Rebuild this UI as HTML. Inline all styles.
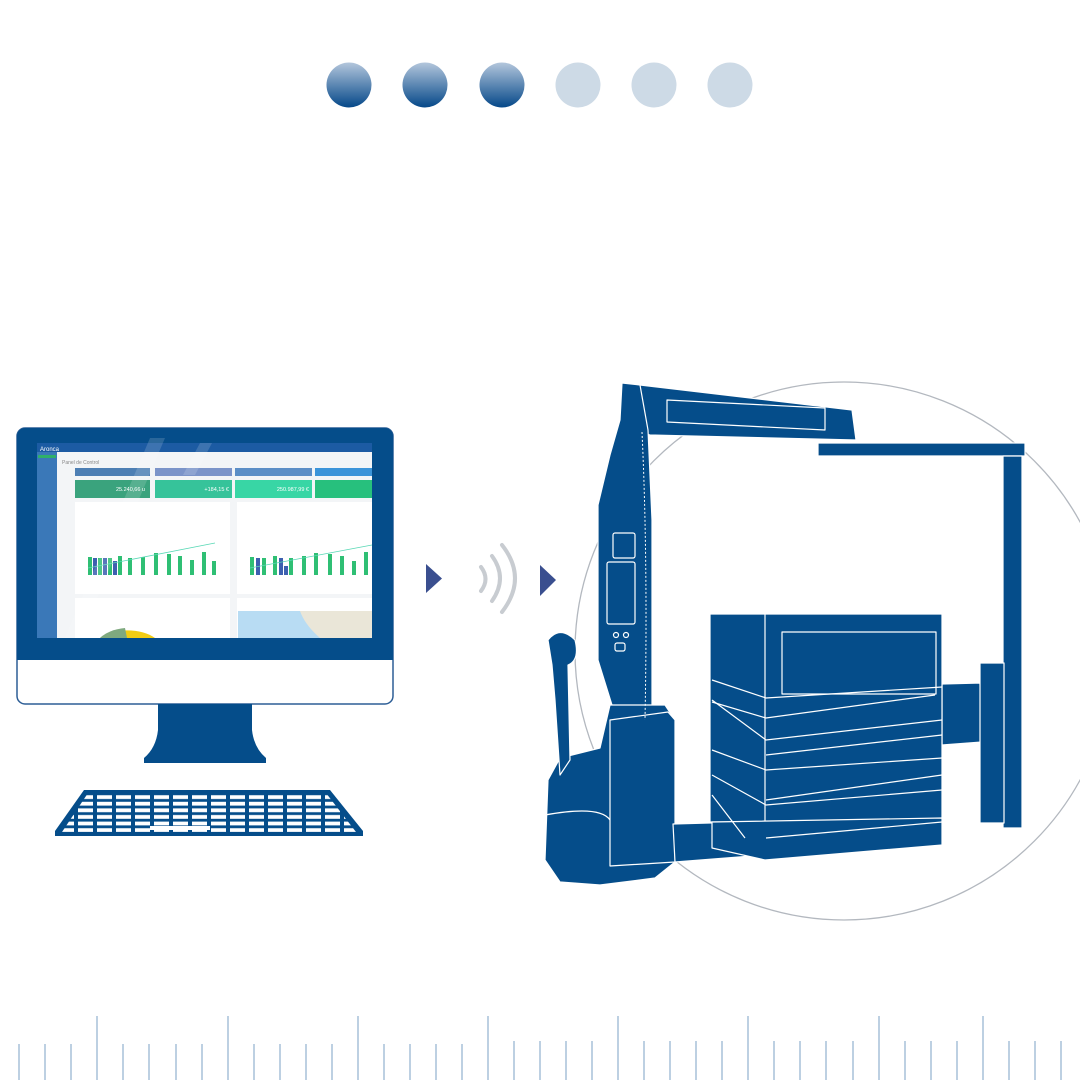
<!DOCTYPE html>
<html><head><meta charset="utf-8"><style>
html,body{margin:0;padding:0;background:#fff;width:1080px;height:1080px;overflow:hidden}
svg{display:block}
text{font-family:"Liberation Sans",sans-serif}
</style></head><body>
<svg width="1080" height="1080" viewBox="0 0 1080 1080" xmlns="http://www.w3.org/2000/svg">
<defs>
<linearGradient id="dg" x1="0" y1="0" x2="0" y2="1">
<stop offset="0" stop-color="#b3c6dc"/><stop offset="1" stop-color="#054889"/>
</linearGradient>
<pattern id="keys" x="0" y="794" width="19" height="6.6" patternUnits="userSpaceOnUse">
<rect x="2" y="1.2" width="15" height="3.8" fill="#fff"/>
</pattern>
<clipPath id="kbc"><polygon points="88,793 326,793 356,832 62,832"/></clipPath>
</defs>

<!-- dots -->
<circle cx="349" cy="85" r="22.5" fill="url(#dg)"/>
<circle cx="425" cy="85" r="22.5" fill="url(#dg)"/>
<circle cx="502" cy="85" r="22.5" fill="url(#dg)"/>
<circle cx="578" cy="85" r="22.5" fill="#cddae6"/>
<circle cx="654" cy="85" r="22.5" fill="#cddae6"/>
<circle cx="730" cy="85" r="22.5" fill="#cddae6"/>

<!-- monitor -->
<rect x="17" y="428" width="376" height="276" rx="8" fill="#fff" stroke="#2d5e96" stroke-width="1.5"/>
<path d="M25,428 H385 a8,8 0 0 1 8,8 V660 H17 V436 a8,8 0 0 1 8,-8z" fill="#054d8a"/>
<rect x="37" y="443" width="335" height="195" fill="#f3f5f7"/>
<rect x="37" y="443" width="335" height="9" fill="#1c5ba3"/>
<rect x="37" y="452" width="20" height="186" fill="#3a78b8"/>
<rect x="38" y="455" width="18" height="3" fill="#2fb06a"/>
<text x="40" y="451" font-size="6" fill="#fff">Aronca</text>
<text x="62" y="464" font-size="5" fill="#888">Panel de Control</text>
<rect x="75" y="468" width="75" height="8" fill="#4d7fb4"/>
<rect x="155" y="468" width="77" height="8" fill="#7b94c9"/>
<rect x="235" y="468" width="77" height="8" fill="#5b8ec6"/>
<rect x="315" y="468" width="57" height="8" fill="#3b94d9"/>
<rect x="75" y="480" width="75" height="18" fill="#3aa37d"/>
<rect x="155" y="480" width="77" height="18" fill="#36c39a"/>
<rect x="235" y="480" width="77" height="18" fill="#38d6a5"/>
<rect x="315" y="480" width="57" height="18" fill="#27c07d"/>
<text x="145" y="491" font-size="5.5" fill="#fff" text-anchor="end">25.240,66 u</text>
<text x="229" y="491" font-size="5.5" fill="#fff" text-anchor="end">+184,15 €</text>
<text x="309" y="491" font-size="5.5" fill="#fff" text-anchor="end">250.987,99 €</text>
<rect x="75" y="502" width="155" height="92" fill="#fff"/>
<rect x="237" y="502" width="135" height="92" fill="#fff"/>
<g fill="#2fbf74">
<rect x="88" y="557" width="4" height="18"/><rect x="98" y="558" width="4" height="17"/><rect x="108" y="558" width="4" height="17"/>
<rect x="118" y="556" width="4" height="19"/><rect x="128" y="558" width="4" height="17"/><rect x="141" y="557" width="4" height="18"/>
<rect x="154" y="553" width="4" height="22"/><rect x="167" y="554" width="4" height="21"/><rect x="178" y="556" width="4" height="19"/>
<rect x="190" y="560" width="4" height="15"/><rect x="202" y="552" width="4" height="23"/><rect x="212" y="561" width="4" height="14"/>
<rect x="250" y="557" width="4" height="18"/><rect x="262" y="558" width="4" height="17"/><rect x="273" y="556" width="4" height="19"/>
<rect x="289" y="558" width="4" height="17"/><rect x="302" y="556" width="4" height="19"/><rect x="314" y="553" width="4" height="22"/>
<rect x="328" y="554" width="4" height="21"/><rect x="340" y="556" width="4" height="19"/><rect x="352" y="561" width="4" height="14"/><rect x="364" y="552" width="4" height="23"/>
</g>
<g fill="#3d60b0"><rect x="93" y="558" width="4" height="17"/><rect x="103" y="558" width="4" height="17"/><rect x="113" y="561" width="4" height="14"/><rect x="256" y="558" width="4" height="17"/><rect x="279" y="558" width="4" height="17"/><rect x="284" y="566" width="4" height="9"/></g>
<path d="M88,568 L215,543 M250,568 L372,545" stroke="#58d8b5" stroke-width="0.8" fill="none"/>
<rect x="75" y="598" width="155" height="40" fill="#fff"/>
<rect x="237" y="598" width="135" height="40" fill="#fff"/>
<rect x="238" y="611" width="134" height="27" fill="#b8dcf3"/>
<path d="M300,611 L372,611 L372,638 L320,638 Q305,625 300,611z" fill="#eae6d8"/>
<path d="M100,638 A35,20 0 0 1 155,638z" fill="#f2cc13"/>
<path d="M100,638 A35,20 0 0 1 125,628 L127,638z" fill="#7fa97f"/>
<path d="M150,438 L165,438 L80,638 L65,638z" fill="#fff" opacity="0.15"/>
<path d="M200,443 L212,443 L195,475 L183,475z" fill="#fff" opacity="0.15"/>

<!-- stand -->
<path d="M158,704 H252 V730 Q254,748 266,758 V763 H144 V758 Q156,748 158,730z" fill="#054d8a"/>
<!-- keyboard -->
<polygon points="84,790 330,790 363,831 363,836 55,836 55,831" fill="#054d8a"/>
<g clip-path="url(#kbc)"><rect x="55" y="794" width="310" height="40" fill="url(#keys)"/></g>
<rect x="150" y="826" width="60" height="4" fill="#fff"/>

<!-- arrows / waves -->
<polygon points="426,564 442,578.5 426,593" fill="#3a4f8f"/>
<polygon points="540,565 556,580 540,596" fill="#3a4f8f"/>
<g fill="none" stroke="#c8ccd1" stroke-width="4" stroke-linecap="round">
<path d="M481,567 Q490,579 481,591"/>
<path d="M492,556 Q508,578 492,601"/>
<path d="M502,545 Q528,578 502,612"/>
</g>

<!-- circle -->
<circle cx="844" cy="651" r="269" fill="none" stroke="#b3b8bf" stroke-width="1.3"/>

<!-- machine -->
<g fill="#054d8a" stroke="#fff" stroke-width="1.2" stroke-linejoin="round">
<polygon points="622,383 640,385 852,410 856,440 650,435 630,430"/>
<polygon points="667,400 825,408 825,430 667,422" fill="none"/>
<polygon points="622,383 640,385 648,430 652,520 652,705 640,725 612,705 598,660 598,505 610,455 620,420"/>
<rect x="613" y="533" width="22" height="25" rx="2" fill="none"/>
<rect x="607" y="562" width="28" height="62" rx="2" fill="none"/>
<circle cx="616" cy="635" r="2.5" fill="none"/><circle cx="626" cy="635" r="2.5" fill="none"/>
<rect x="615" y="643" width="10" height="8" rx="2" fill="none"/>
<polygon points="818,443 1025,443 1025,456 818,456"/>
<polygon points="1003,456 1022,456 1022,828 1003,828"/>
<polygon points="942,684 980,683 982,742 942,745"/>
<rect x="980" y="663" width="24" height="160"/>
<!-- body -->
<path d="M548,780 L560,758 L600,748 L610,705 L665,705 L675,720 L675,862 L655,878 L600,885 L560,882 L545,860z"/>
<path d="M610,720 L668,712 L675,720 L675,862 L610,866z"/>
<path d="M545,815 Q600,805 610,820" fill="none"/>
<path d="M673,824 L745,822 L765,855 L675,862z"/>
<path d="M548,640 Q560,625 575,640 Q580,660 568,665 L570,760 L560,775 L555,700 L552,665z"/>
<!-- box -->
<polygon points="710,614 942,614 942,822 710,822"/>
<rect x="782" y="632" width="154" height="62" fill="none"/>
<line x1="765" y1="614" x2="765" y2="822"/>
<polygon points="712,822 942,818 942,845 765,860 712,848"/>
</g>
<path d="M642,432 Q648,560 645,720" stroke="#fff" stroke-width="1" stroke-dasharray="2 2" fill="none"/>
<g stroke="#fff" stroke-width="1.2" fill="none">
<path d="M712,680 L766,698 L942,687"/>
<path d="M712,702 L766,718 L935,695"/>
<path d="M712,700 L766,740 L942,720"/>
<path d="M766,755 L942,735"/>
<path d="M712,750 L766,770 L942,758"/>
<path d="M766,800 L942,775"/>
<path d="M712,775 L766,805 L942,790"/>
<path d="M712,795 L745,838"/>
<path d="M766,838 L942,822"/>
</g>

<!-- ruler -->
<g stroke="#a7c0d8" stroke-width="1.5">
<line x1="19" y1="1044" x2="19" y2="1080"/><line x1="45" y1="1044" x2="45" y2="1080"/><line x1="71" y1="1044" x2="71" y2="1080"/><line x1="97" y1="1016" x2="97" y2="1080"/>
<line x1="123" y1="1044" x2="123" y2="1080"/><line x1="149" y1="1044" x2="149" y2="1080"/><line x1="176" y1="1044" x2="176" y2="1080"/><line x1="202" y1="1044" x2="202" y2="1080"/><line x1="228" y1="1016" x2="228" y2="1080"/>
<line x1="254" y1="1044" x2="254" y2="1080"/><line x1="280" y1="1044" x2="280" y2="1080"/><line x1="306" y1="1044" x2="306" y2="1080"/><line x1="332" y1="1044" x2="332" y2="1080"/><line x1="358" y1="1016" x2="358" y2="1080"/>
<line x1="384" y1="1044" x2="384" y2="1080"/><line x1="410" y1="1044" x2="410" y2="1080"/><line x1="436" y1="1044" x2="436" y2="1080"/><line x1="462" y1="1044" x2="462" y2="1080"/><line x1="488" y1="1016" x2="488" y2="1080"/>
<line x1="514" y1="1041" x2="514" y2="1080"/><line x1="540" y1="1041" x2="540" y2="1080"/><line x1="566" y1="1041" x2="566" y2="1080"/><line x1="592" y1="1041" x2="592" y2="1080"/><line x1="618" y1="1016" x2="618" y2="1080"/>
<line x1="644" y1="1041" x2="644" y2="1080"/><line x1="670" y1="1041" x2="670" y2="1080"/><line x1="696" y1="1041" x2="696" y2="1080"/><line x1="722" y1="1041" x2="722" y2="1080"/><line x1="748" y1="1016" x2="748" y2="1080"/>
<line x1="774" y1="1041" x2="774" y2="1080"/><line x1="800" y1="1041" x2="800" y2="1080"/><line x1="826" y1="1041" x2="826" y2="1080"/><line x1="853" y1="1041" x2="853" y2="1080"/><line x1="879" y1="1016" x2="879" y2="1080"/>
<line x1="905" y1="1041" x2="905" y2="1080"/><line x1="931" y1="1041" x2="931" y2="1080"/><line x1="957" y1="1041" x2="957" y2="1080"/><line x1="983" y1="1016" x2="983" y2="1080"/><line x1="1009" y1="1041" x2="1009" y2="1080"/>
<line x1="1035" y1="1041" x2="1035" y2="1080"/><line x1="1061" y1="1041" x2="1061" y2="1080"/>
</g>
</svg>
</body></html>
